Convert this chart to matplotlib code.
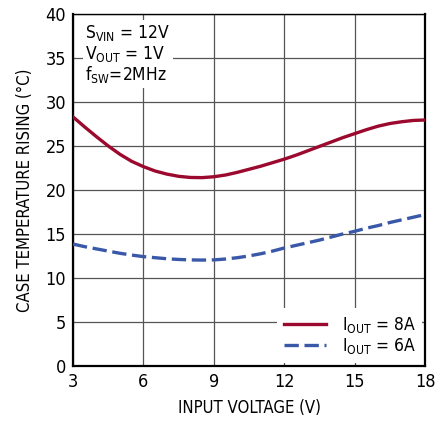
import matplotlib
matplotlib.use('Agg')
import matplotlib.pyplot as plt

# case temperature rise vs input voltage (every 0.5V)
vin = [3, 3.5, 4, 4.5, 5, 5.5, 6, 6.5, 7, 7.5, 8, 8.5, 9, 9.5, 10, 10.5,
       11, 11.5, 12, 12.5, 13, 13.5, 14, 14.5, 15, 15.5, 16, 16.5, 17, 17.5, 18]
temp_8a = [28.3, 27.15, 26.05, 25.0, 24.05, 23.25, 22.65, 22.15, 21.8, 21.55, 21.42, 21.4, 21.5, 21.7, 22.0, 22.35,
           22.7, 23.1, 23.5, 23.95, 24.45, 24.95, 25.45, 25.95, 26.4, 26.85, 27.25, 27.55, 27.75, 27.9, 27.95]
temp_6a = [13.85, 13.55, 13.3, 13.05, 12.8, 12.6, 12.42, 12.3, 12.18, 12.1, 12.05, 12.03, 12.05, 12.15, 12.3, 12.5,
           12.75, 13.05, 13.4, 13.7, 14.0, 14.3, 14.65, 15.0, 15.3, 15.65, 15.95, 16.3, 16.6, 16.9, 17.2]
xticks = [3, 6, 9, 12, 15, 18]
yticks = [0, 5, 10, 15, 20, 25, 30, 35, 40]

plt.rcParams['font.family'] = ['DejaVu Sans']
plt.rcParams['font.stretch'] = 'condensed'
plt.rcParams['mathtext.default'] = 'regular'

fig = plt.figure(figsize=(4.4, 4.24), dpi=100)
ax = fig.add_axes([0.166, 0.137, 0.8, 0.830])

ax.plot(vin, temp_8a, color='#9B0A2E', lw=2.4, label='I$_{OUT}$ = 8A', zorder=3)
ax.plot(vin, temp_6a, color='#3A58A8', lw=2.4, ls=(0, (4.3, 1.7)), label='I$_{OUT}$ = 6A', zorder=3)

ax.set_xlim(3, 18)
ax.set_ylim(0, 40)
ax.set_xticks(xticks)
ax.set_yticks(yticks)
ax.tick_params(length=0, labelsize=13, pad=5)
ax.grid(True, color='#555555', lw=0.9)
for s in ax.spines.values():
    s.set_linewidth(1.6)
ax.spines['top'].set_linewidth(1.0)

ax.set_xlabel('INPUT VOLTAGE (V)', fontsize=12, labelpad=6)
ax.set_ylabel('CASE TEMPERATURE RISING (°C)', fontsize=12, labelpad=8)

ax.text(0.035, 0.975, 'S$_{VIN}$ = 12V\nV$_{OUT}$ = 1V\nf$_{SW}$=2MHz', transform=ax.transAxes,
        fontsize=12.5, va='top', ha='left', linespacing=1.05,
        bbox=dict(facecolor='white', edgecolor='none', pad=2), zorder=4)

leg = ax.legend(loc='lower right', fontsize=12.5, frameon=True, fancybox=False,
                handlelength=2.4, borderaxespad=0.15, labelspacing=0.1, handletextpad=0.9)
leg.get_frame().set_edgecolor('none')
leg.get_frame().set_alpha(1)

plt.savefig('out.png', dpi=100)
